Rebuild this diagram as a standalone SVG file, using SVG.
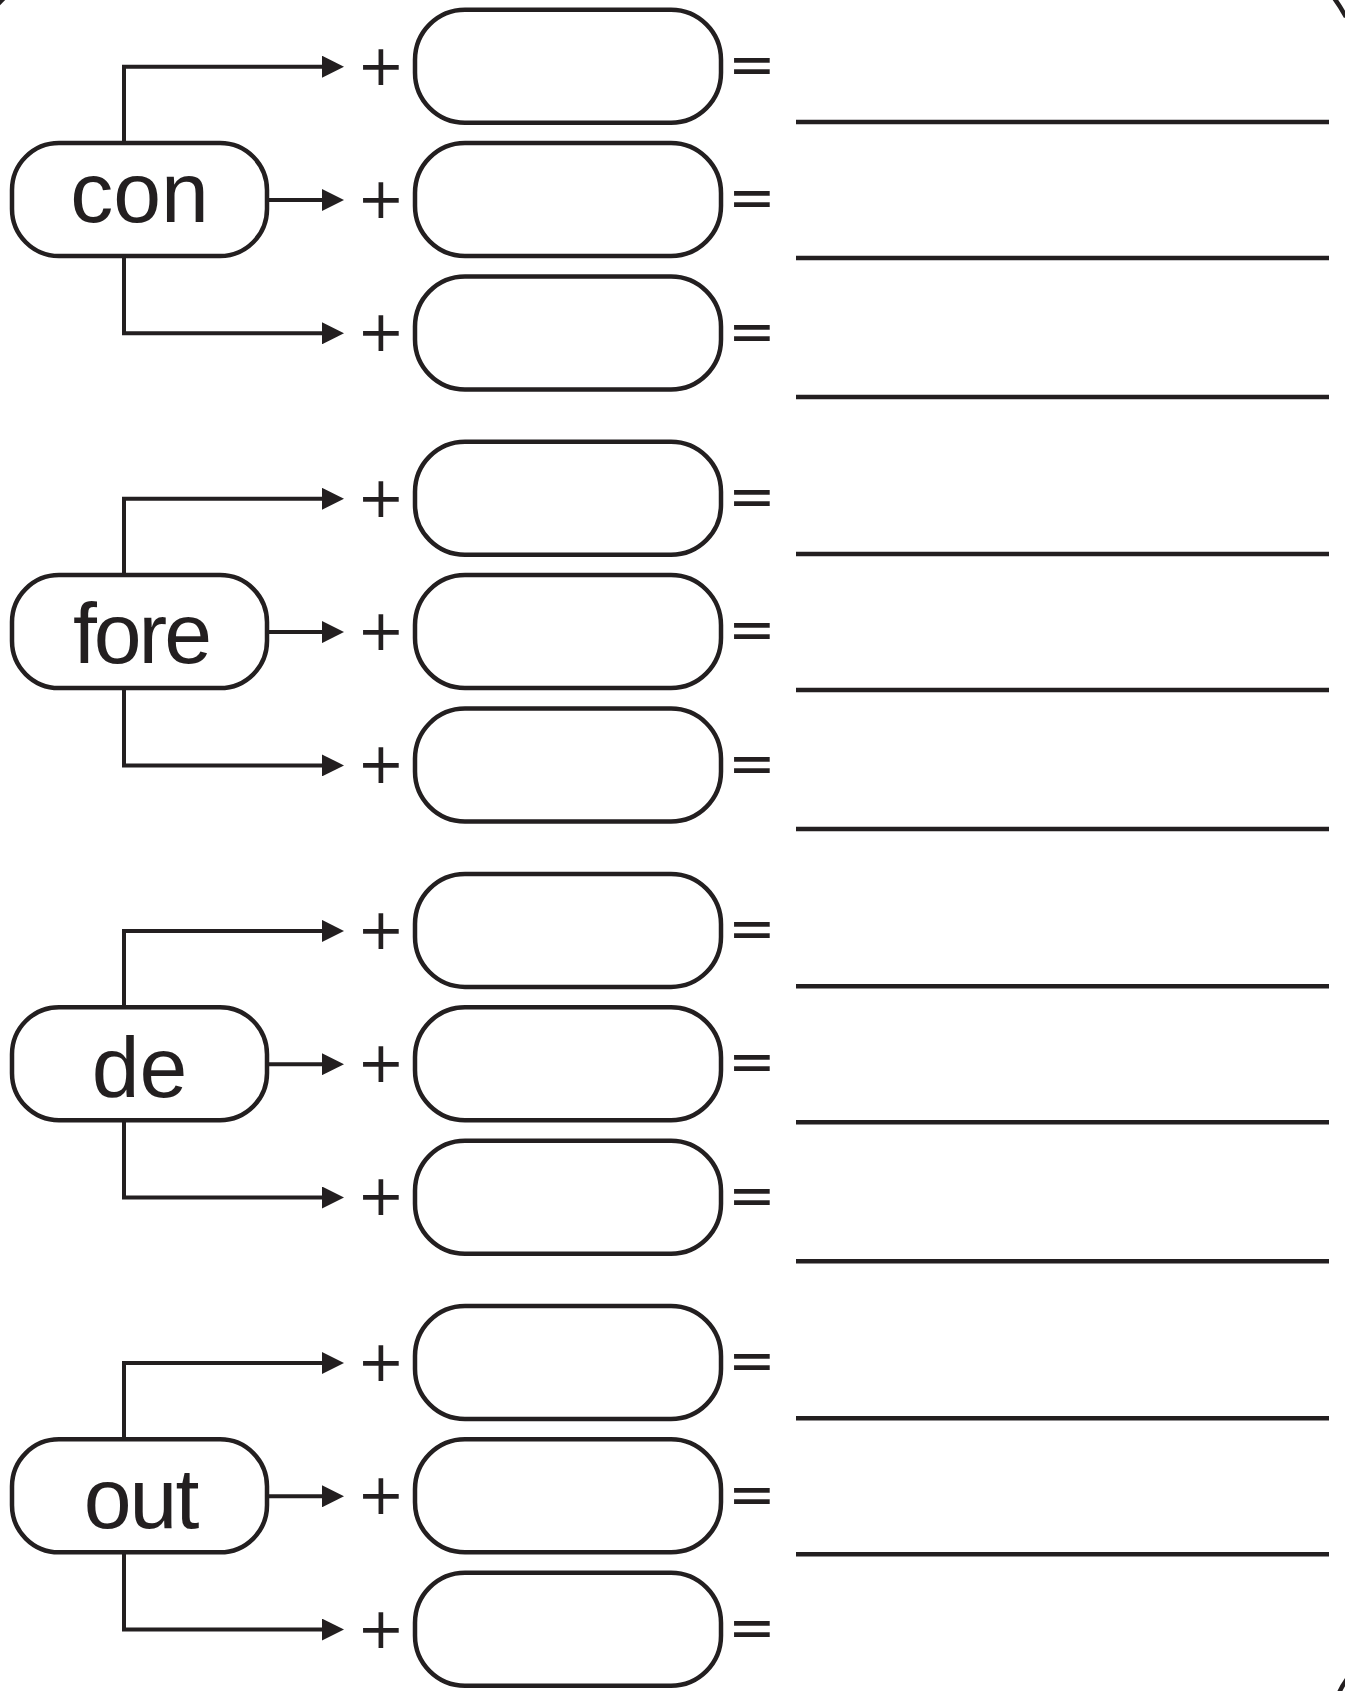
<svg xmlns="http://www.w3.org/2000/svg" width="1345" height="1691" viewBox="0 0 1345 1691">
<style>
.box{fill:#fff;stroke:#231f20;stroke-width:4.5}
.conn{fill:none;stroke:#231f20;stroke-width:4}
.ans{stroke:#231f20;stroke-width:4.5}
.lbl{font-family:"Liberation Sans",Arial,sans-serif;font-size:86px;fill:#231f20;text-anchor:middle}
.op{font-family:"DejaVu Sans",sans-serif;font-size:57px;fill:#231f20;text-anchor:middle}
.edge{fill:none;stroke:#231f20;stroke-width:4.5}
</style>
<defs>
<marker id="ah" markerUnits="userSpaceOnUse" markerWidth="22" markerHeight="22" refX="0" refY="11" orient="auto" viewBox="0 0 22 22">
<path d="M0,0 L22,11 L0,22 Z" fill="#231f20"/>
</marker>
</defs>
<rect x="0" y="0" width="1345" height="1691" fill="#fff"/>
<g id="page-edge">
<path class="edge" d="M1334,-2 Q1340,6 1346,17"/>
<path class="edge" d="M-2,4 L4,-2"/>
<path class="edge" d="M1339,1693 Q1342,1686 1347,1679"/>
</g>

<g id="connectors">
<g transform="translate(0,0)">
<path class="conn" d="M124,143 V66.7 H322" marker-end="url(#ah)"/>
<path class="conn" d="M267,200 H322" marker-end="url(#ah)"/>
<path class="conn" d="M124,256 V333.3 H322" marker-end="url(#ah)"/>
</g>
<g transform="translate(0,432.1)">
<path class="conn" d="M124,143 V66.7 H322" marker-end="url(#ah)"/>
<path class="conn" d="M267,200 H322" marker-end="url(#ah)"/>
<path class="conn" d="M124,256 V333.3 H322" marker-end="url(#ah)"/>
</g>
<g transform="translate(0,864.2)">
<path class="conn" d="M124,143 V66.7 H322" marker-end="url(#ah)"/>
<path class="conn" d="M267,200 H322" marker-end="url(#ah)"/>
<path class="conn" d="M124,256 V333.3 H322" marker-end="url(#ah)"/>
</g>
<g transform="translate(0,1296.3)">
<path class="conn" d="M124,143 V66.7 H322" marker-end="url(#ah)"/>
<path class="conn" d="M267,200 H322" marker-end="url(#ah)"/>
<path class="conn" d="M124,256 V333.3 H322" marker-end="url(#ah)"/>
</g>
</g>

<g id="group-con">
<g id="node-con"><rect class="box" x="12" y="143" width="255" height="113" rx="47"/><text class="lbl" x="139.5" y="222">con</text></g>
<g id="blank-con-1"><rect class="box" x="415" y="9.7" width="306" height="113" rx="50"/></g>
<g id="blank-con-2"><rect class="box" x="415" y="143" width="306" height="113" rx="50"/></g>
<g id="blank-con-3"><rect class="box" x="415" y="276.5" width="306" height="113" rx="50"/></g>
<text class="op" x="381" y="84.7">+</text><text class="op" x="381" y="218">+</text><text class="op" x="381" y="351.3">+</text>
<text class="op" x="752" y="84">=</text><text class="op" x="752" y="217.3">=</text><text class="op" x="752" y="350.6">=</text>
<line class="ans" x1="796" y1="122" x2="1329" y2="122"/><line class="ans" x1="796" y1="258" x2="1329" y2="258"/><line class="ans" x1="796" y1="397" x2="1329" y2="397"/>
</g>

<g id="group-fore" transform="translate(0,432.1)">
<g id="node-fore"><rect class="box" x="12" y="143" width="255" height="113" rx="47"/><text class="lbl" x="141" y="231" letter-spacing="-3">fore</text></g>
<g id="blank-fore-1"><rect class="box" x="415" y="9.7" width="306" height="113" rx="50"/></g>
<g id="blank-fore-2"><rect class="box" x="415" y="143" width="306" height="113" rx="50"/></g>
<g id="blank-fore-3"><rect class="box" x="415" y="276.5" width="306" height="113" rx="50"/></g>
<text class="op" x="381" y="84.7">+</text><text class="op" x="381" y="218">+</text><text class="op" x="381" y="351.3">+</text>
<text class="op" x="752" y="84">=</text><text class="op" x="752" y="217.3">=</text><text class="op" x="752" y="350.6">=</text>
<line class="ans" x1="796" y1="122" x2="1329" y2="122"/><line class="ans" x1="796" y1="258" x2="1329" y2="258"/><line class="ans" x1="796" y1="397" x2="1329" y2="397"/>
</g>

<g id="group-de" transform="translate(0,864.2)">
<g id="node-de"><rect class="box" x="12" y="143" width="255" height="113" rx="47"/><text class="lbl" x="139.5" y="233">de</text></g>
<g id="blank-de-1"><rect class="box" x="415" y="9.7" width="306" height="113" rx="50"/></g>
<g id="blank-de-2"><rect class="box" x="415" y="143" width="306" height="113" rx="50"/></g>
<g id="blank-de-3"><rect class="box" x="415" y="276.5" width="306" height="113" rx="50"/></g>
<text class="op" x="381" y="84.7">+</text><text class="op" x="381" y="218">+</text><text class="op" x="381" y="351.3">+</text>
<text class="op" x="752" y="84">=</text><text class="op" x="752" y="217.3">=</text><text class="op" x="752" y="350.6">=</text>
<line class="ans" x1="796" y1="122" x2="1329" y2="122"/><line class="ans" x1="796" y1="258" x2="1329" y2="258"/><line class="ans" x1="796" y1="397" x2="1329" y2="397"/>
</g>

<g id="group-out" transform="translate(0,1296.3)">
<g id="node-out"><rect class="box" x="12" y="143" width="255" height="113" rx="47"/><text class="lbl" x="140.5" y="232" letter-spacing="-2">out</text></g>
<g id="blank-out-1"><rect class="box" x="415" y="9.7" width="306" height="113" rx="50"/></g>
<g id="blank-out-2"><rect class="box" x="415" y="143" width="306" height="113" rx="50"/></g>
<g id="blank-out-3"><rect class="box" x="415" y="276.5" width="306" height="113" rx="50"/></g>
<text class="op" x="381" y="84.7">+</text><text class="op" x="381" y="218">+</text><text class="op" x="381" y="351.3">+</text>
<text class="op" x="752" y="84">=</text><text class="op" x="752" y="217.3">=</text><text class="op" x="752" y="350.6">=</text>
<line class="ans" x1="796" y1="122" x2="1329" y2="122"/><line class="ans" x1="796" y1="258" x2="1329" y2="258"/>
</g>
</svg>
